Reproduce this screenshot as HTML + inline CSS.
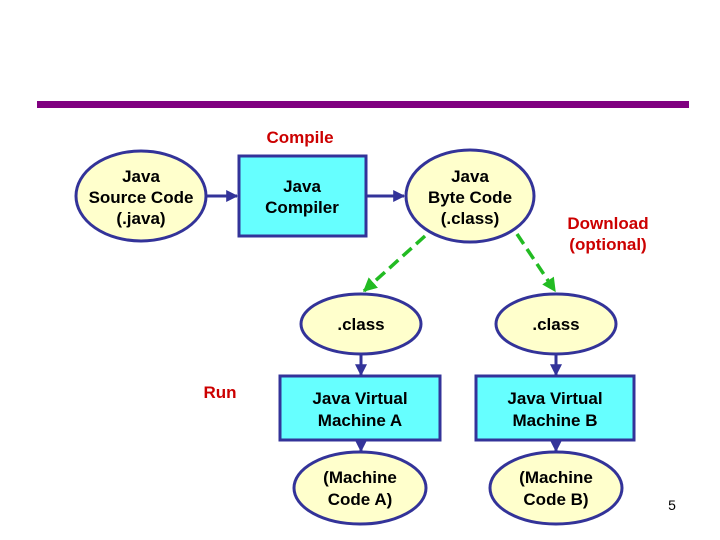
<!DOCTYPE html>
<html><head><style>body{margin:0;background:#fff}svg{display:block}text{font-family:"Liberation Sans",Arial,sans-serif;font-size:17px;font-weight:bold;text-anchor:middle}</style></head>
<body><svg width="720" height="540" viewBox="0 0 720 540" xmlns="http://www.w3.org/2000/svg">
<defs>
<marker id="b" viewBox="0 0 10 10" refX="9" refY="5" markerWidth="4" markerHeight="4" orient="auto"><path d="M0,0L10,5L0,10z" fill="#333399"/></marker>
<marker id="g" viewBox="0 0 10 10" refX="9" refY="5" markerWidth="4" markerHeight="4" orient="auto"><path d="M0,0L10,5L0,10z" fill="#22bb22"/></marker>
</defs>
<rect x="37" y="101" width="652" height="7" fill="#800080"/>
<g stroke="#333399" stroke-width="3">
<ellipse cx="141" cy="196" rx="65" ry="45" fill="#ffffcc"/>
<rect x="239" y="156" width="127" height="80" fill="#66ffff"/>
<ellipse cx="470" cy="196" rx="64" ry="46" fill="#ffffcc"/>
<ellipse cx="361" cy="324" rx="60" ry="30" fill="#ffffcc"/>
<ellipse cx="556" cy="324" rx="60" ry="30" fill="#ffffcc"/>
<rect x="280" y="376" width="160" height="64" fill="#66ffff"/>
<rect x="476" y="376" width="158" height="64" fill="#66ffff"/>
<ellipse cx="360" cy="488" rx="66" ry="36" fill="#ffffcc"/>
<ellipse cx="556" cy="488" rx="66" ry="36" fill="#ffffcc"/>
<line x1="207" y1="196" x2="237" y2="196" marker-end="url(#b)"/>
<line x1="366" y1="196" x2="404" y2="196" marker-end="url(#b)"/>
<line x1="361" y1="354" x2="361" y2="375" marker-end="url(#b)"/>
<line x1="556" y1="354" x2="556" y2="375" marker-end="url(#b)"/>
<line x1="361" y1="440" x2="361" y2="451" marker-end="url(#b)"/>
<line x1="556" y1="440" x2="556" y2="451" marker-end="url(#b)"/>
</g>
<g stroke="#22bb22" stroke-width="3.5" stroke-dasharray="12,6">
<line x1="425" y1="236" x2="364" y2="291" marker-end="url(#g)"/>
<line x1="517" y1="234" x2="555" y2="291" marker-end="url(#g)"/>
</g>
<g fill="#cc0000">
<text x="300" y="143">Compile</text>
<text x="608" y="229">Download</text>
<text x="608" y="250">(optional)</text>
<text x="220" y="398">Run</text>
</g>
<g fill="#000">
<text x="141" y="182">Java</text><text x="141" y="203">Source Code</text><text x="141" y="224">(.java)</text>
<text x="302" y="192">Java</text><text x="302" y="213">Compiler</text>
<text x="470" y="182">Java</text><text x="470" y="203">Byte Code</text><text x="470" y="224">(.class)</text>
<text x="361" y="330">.class</text><text x="556" y="330">.class</text>
<text x="360" y="404">Java Virtual</text><text x="360" y="426">Machine A</text>
<text x="555" y="404">Java Virtual</text><text x="555" y="426">Machine B</text>
<text x="360" y="483">(Machine</text><text x="360" y="505">Code A)</text>
<text x="556" y="483">(Machine</text><text x="556" y="505">Code B)</text>
<text x="672" y="510" style="font-size:14px;font-weight:normal">5</text>
</g>
</svg></body></html>
